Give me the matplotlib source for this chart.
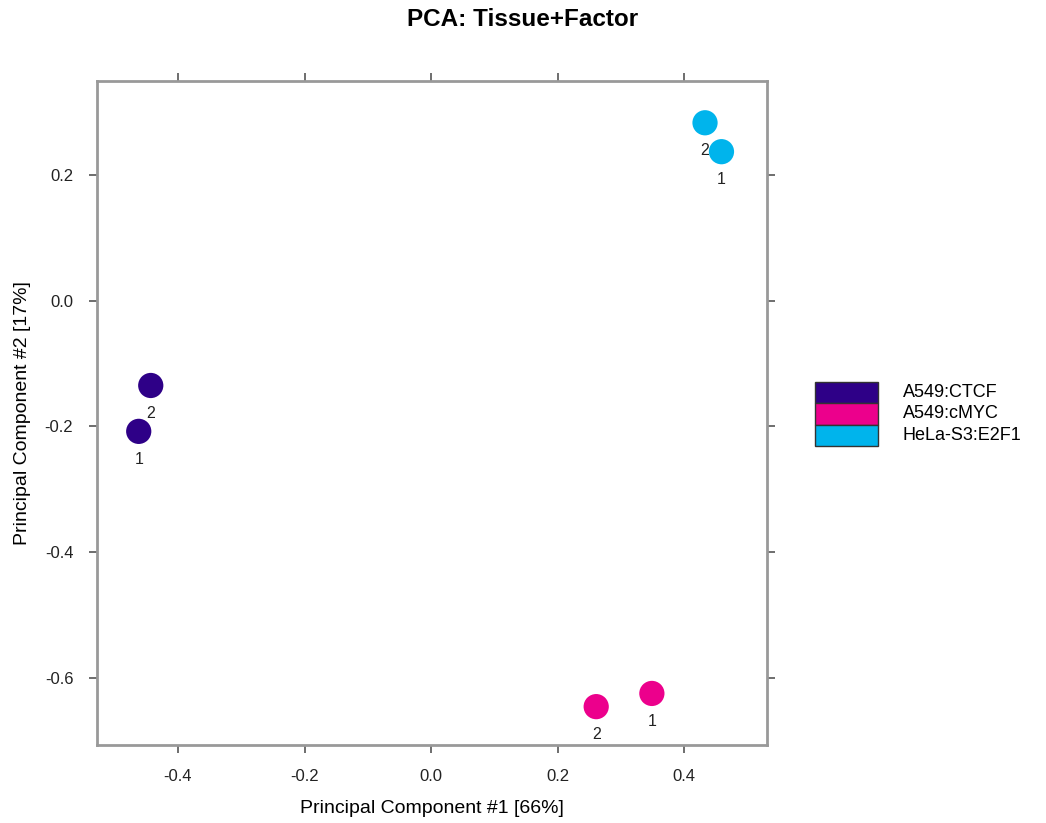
import matplotlib
matplotlib.use('Agg')
import matplotlib.pyplot as plt
from matplotlib.patches import Rectangle

plt.rcParams['font.family'] = ['Liberation Sans', 'DejaVu Sans']

# PCA scores per group (replicates 1, 2)
groups = ['A549:CTCF', 'A549:cMYC', 'HeLa-S3:E2F1']
colors = ['#2E0087', '#EC008C', '#00B4EC']
pc1 = [[-0.462, -0.443], [0.349, 0.261], [0.459, 0.433]]
pc2 = [[-0.208, -0.135], [-0.625, -0.646], [0.237, 0.283]]
reps = ['1', '2']

fig = plt.figure(figsize=(10.46, 8.23), dpi=100)
ax = fig.add_axes([0.0927, 0.0948, 0.6406, 0.8068])

for g, c, xs, ys in zip(groups, colors, pc1, pc2):
    ax.scatter(xs, ys, s=330, color=c, edgecolors='none', zorder=3)
    for x, y, r in zip(xs, ys, reps):
        ax.annotate(r, (x, y), xytext=(0, -20), textcoords='offset points',
                    ha='center', va='center', fontsize=11.5, color='#222222')

ax.set_xlim(-0.528, 0.531)
ax.set_ylim(-0.707, 0.3495)
ax.set_xticks([-0.4, -0.2, 0.0, 0.2, 0.4])
ax.set_yticks([-0.6, -0.4, -0.2, 0.0, 0.2])
ax.set_xticklabels(['-0.4', '-0.2', '0.0', '0.2', '0.4'])
ax.set_yticklabels(['-0.6', '-0.4', '-0.2', '0.0', '0.2'])
ax.tick_params(direction='out', length=6, width=1.2, color='#555555',
               labelsize=12, labelcolor='#222222', top=True, right=True, pad=11)
for s in ax.spines.values():
    s.set_color('#999999')
    s.set_linewidth(2)

ax.set_xlabel('Principal Component #1 [66%]', fontsize=14, labelpad=12)
ax.set_ylabel('Principal Component #2 [17%]', fontsize=14, labelpad=10)
fig.text(0.5, 1 - 20 / 823, 'PCA: Tissue+Factor', fontsize=17.5, fontweight='bold',
         ha='center', va='center')

# legend key
W, H = 1046, 823
for i, (g, c) in enumerate(zip(groups, colors)):
    y0 = 382 + i * 21.3
    fig.add_artist(Rectangle((815 / W, 1 - (y0 + 21.3) / H), 63 / W, 21.3 / H,
                             transform=fig.transFigure, facecolor=c,
                             edgecolor='#333333', linewidth=1))
    fig.text(903 / W, 1 - (y0 + 10.6) / H, g, fontsize=13, va='center', ha='left')

fig.savefig('out.png', dpi=100)
